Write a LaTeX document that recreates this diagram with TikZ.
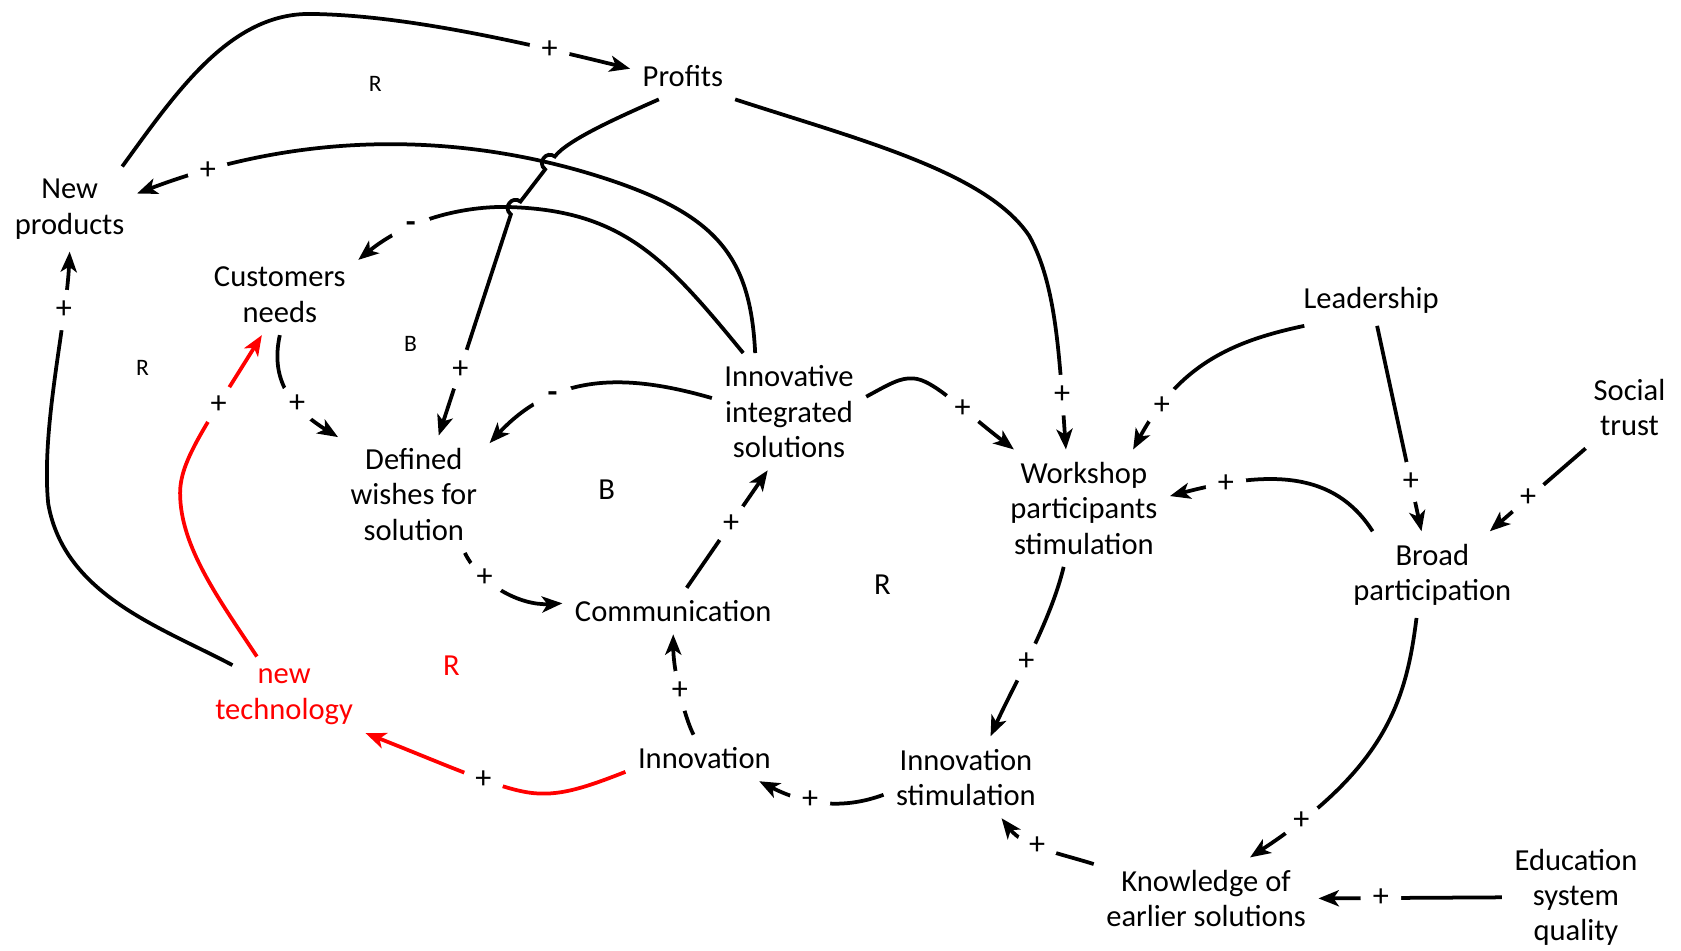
\documentclass[tikz,border=0pt]{standalone}
\usepackage{fontspec}
\setmainfont{Carlito}
\usetikzlibrary{arrows.meta}

\begin{document}
\begin{tikzpicture}[x=1pt,y=-1pt,->,>={Stealth[length=19pt,width=15pt,inset=5pt]},line width=3.5pt,
  var/.style={align=center,inner sep=10pt,font=\fontsize{28.5}{33}\selectfont},
  sign/.style={circle,fill=white,text=black,inner sep=0pt,minimum size=38pt,font=\fontsize{30}{30}\selectfont},
  loop label/.style={font=\fontsize{28.5}{33}\selectfont},
  small loop/.style={font=\fontsize{22}{22}\selectfont}]

 \useasboundingbox (0,0) rectangle (1568,887);

 \node[var] (prof) at (637,71) {Profits};
 \node[var] (np) at (65,195) {New\\products};
 \node[var] (cust) at (261,275) {Customers\\needs};
 \node[var] (def) at (386,461) {Defined\\wishes for\\solution};
 \node[var] (iis) at (736,384) {Innovative\\integrated\\solutions};
 \node[var] (comm) at (628,570) {Communication};
 \node[var] (inno) at (657,707) {Innovation};
 \node[var] (istim) at (901,725) {Innovation\\stimulation};
 \node[var] (ws) at (1011,474) {Workshop\\participants\\stimulation};
 \node[var] (lead) at (1279,280) {Leadership};
 \node[var] (st) at (1520,380) {Social\\trust};
 \node[var] (bp) at (1336,536) {Broad\\participation};
 \node[var] (know) at (1125,838) {Knowledge of\\earlier solutions};
 \node[var] (edu) at (1470,837) {Education\\system\\quality};
 \node[var,red] (nt) at (265,650) {new\\technology};

 \node[small loop] (rtop) at (350,78) {R};
 \node[small loop] (rleft) at (133,343) {R};
 \node[small loop] (bsmall) at (383,321) {B};
 \node[loop label] (bmid) at (566,457) {B};
 \node[loop label] (rmid) at (823,545) {R};
 \node[loop label,red] (rred) at (421,621) {R};

 \draw (np.39) .. controls (165,85) and (215,12) .. (290,13)
       .. controls (370,14) and (470,35) .. (prof.172) node[sign,pos=0.78] {+};
 \draw (iis.120) .. controls (700,240) and (670,200) .. (560,165)
       .. controls (450,130) and (300,115) .. (np.13) node[sign,pos=0.87] {+};
 \draw (prof.224) .. controls (580,108) and (529.6,130.1) .. (517.5,146)
       .. controls (509.6,139.9) and (500.6,151.9) .. (508.5,158)
       -- (485.5,188)
       .. controls (477.6,181.9) and (468.6,193.9) .. (476.5,200)
       -- (def.67) node[sign,pos=0.7] {+};
 \draw (iis.128) .. controls (620,240) and (580,195) .. (470,193)
       .. controls (430,193) and (380,205) .. (cust.24) node[sign,pos=0.65] {\bfseries -};
 \draw (cust.270) .. controls (254,345) and (262,375) .. (def.143) node[sign,pos=0.68] {+};
 \draw (iis.170) .. controls (590,350) and (520,345) .. (def.34) node[sign,pos=0.7] {\bfseries -};
 \draw (def.311) .. controls (448,545) and (485,565) .. (comm.176) node[sign,pos=0.3] {+};
 \draw (comm.60) -- (iis.250) node[sign,pos=0.55] {+};
 \draw (inno.115) .. controls (638,668) and (628,625) .. (comm.270) node[sign,pos=0.5] {+};
 \draw[red] (inno.190) .. controls (550,733) and (525,742) .. (500,740)
       .. controls (470,738) and (420,715) .. (nt.336) node[sign,pos=0.42] {+};
 \draw[red] (nt.124) .. controls (205,560) and (168,510) .. (168,460)
       .. controls (168,430) and (190,400) .. (cust.246) node[sign,pos=0.7] {+};
 \draw ([shift={(12,8)}]nt.148) .. controls (150,585) and (60,555) .. (45,470)
       .. controls (38,400) and (62,300) .. (np.270) node[sign,pos=0.75] {+};
 \draw (prof.336) .. controls (800,130) and (920,160) .. (960,220)
       .. controls (985,265) and (988,330) .. (ws.107) node[sign,pos=0.8] {+};
 \draw (iis.11) .. controls (830,358) and (840,352) .. (852,353)
       .. controls (870,354) and (895,380) .. (ws.140) node[sign,pos=0.62] {+};
 \draw (lead.201) .. controls (1150,318) and (1100,340) .. (ws.50) node[sign,pos=0.8] {+};
 \draw (lead.283) -- (bp.104) node[sign,pos=0.76] {+};
 \draw (st.223) -- (bp.37) node[sign,pos=0.6] {+};
 \draw (bp.144) .. controls (1245,440) and (1185,438) .. (ws.8) node[sign,pos=0.8] {+};
 \draw (ws.251) .. controls (980,580) and (945,640) .. (istim.59) node[sign,pos=0.55] {+};
 \draw (istim.192) .. controls (795,752) and (760,755) .. (inno.337) node[sign,pos=0.66] {+};
 \draw (bp.250) .. controls (1312,650) and (1295,715) .. (know.43) node[sign,pos=0.86] {+};
 \draw (know.163) .. controls (985,795) and (955,790) .. (istim.311) node[sign,pos=0.55] {+};
 \draw (edu.west) -- (know.east) node[sign,pos=0.66] {+};

\end{tikzpicture}
\end{document}
